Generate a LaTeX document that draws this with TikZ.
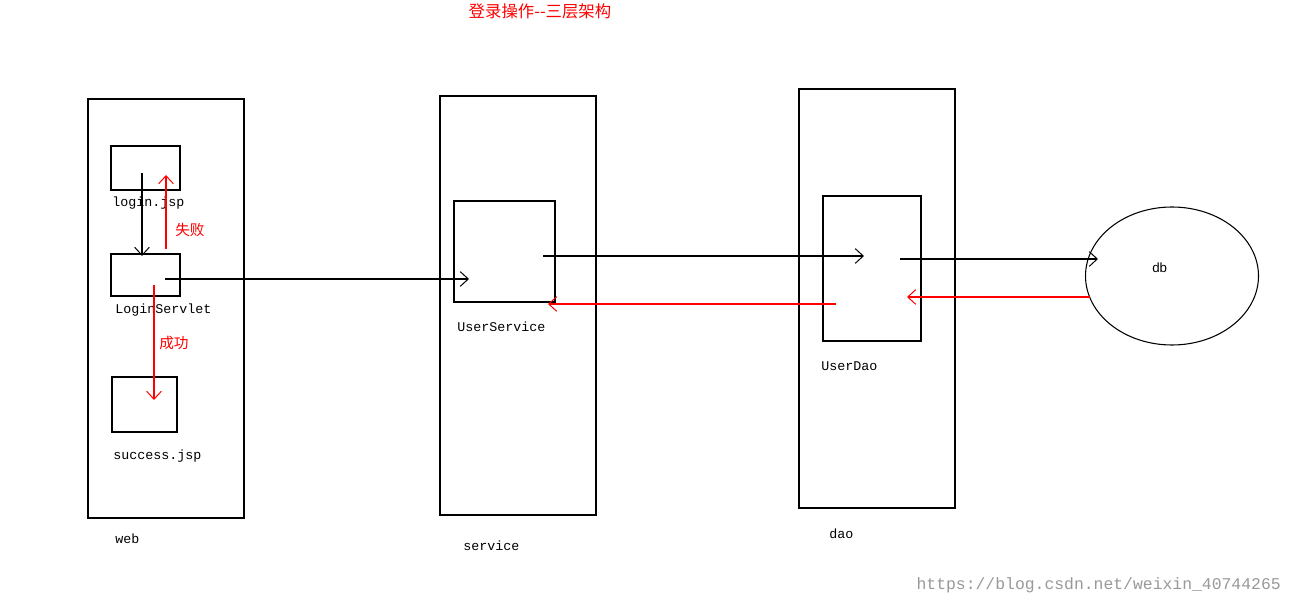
\documentclass[tikz,border=0pt]{standalone}
\usepackage{fontspec}
\setmainfont{Liberation Sans}
\setmonofont{Liberation Mono}
\newfontfamily\cjk{Noto Sans CJK SC}
\usetikzlibrary{arrows.meta,shapes.geometric}
\begin{document}
\begin{tikzpicture}[x=0.75pt,y=-0.75pt,
  box/.style={draw=black,line width=0.8pt,inner sep=0pt,minimum width=#1},
  lbl/.style={anchor=west,inner sep=0pt,font=\ttfamily\fontsize{10pt}{12pt}\selectfont},
  cn/.style={anchor=west,inner sep=0pt,text=red,font=\cjk\fontsize{11pt}{12pt}\selectfont},
  blk/.style={draw=black,line width=0.8pt,-{Straight Barb[length=6pt,width=11pt,line width=0.75pt]}},
  rd/.style={draw=red,line width=0.8pt,-{Straight Barb[length=6pt,width=11pt,line width=0.75pt]}}]
\useasboundingbox[fill=white] (0,0) rectangle (1292,605);
% outer tiers
\node[box=117pt,minimum height=314.25pt] (web) at (166,308.5) {};
\node[box=117pt,minimum height=314.25pt] (service) at (518,305.5) {};
\node[box=117pt,minimum height=314.25pt] (dao) at (877,298.5) {};
% inner boxes
\node[box=51.75pt,minimum height=33pt] (login) at (145.5,168) {};
\node[box=51.75pt,minimum height=31.5pt] (servlet) at (145.5,275) {};
\node[box=48.75pt,minimum height=41.25pt] (success) at (144.5,404.5) {};
\node[box=75.75pt,minimum height=75.75pt] (usvc) at (504.5,251.5) {};
\node[box=73.5pt,minimum height=108.75pt] (udao) at (872,268.5) {};
\node[draw=black,line width=0.8pt,ellipse,inner sep=0pt,minimum width=129.75pt,minimum height=103.5pt] (db) at (1172,276) {};
% labels
\node[lbl] (tlogin) at (112,203) {login.jsp};
\node[lbl] (tservlet) at (115,310) {LoginServlet};
\node[lbl] (tsuccess) at (113,456) {success.jsp};
\node[lbl] (tusvc) at (457,327) {UserService};
\node[lbl] (tudao) at (821,366) {UserDao};
\node[lbl] (tweb) at (115,539) {web};
\node[lbl] (tservice) at (463,546) {service};
\node[lbl] (tdao) at (829,534) {dao};
\node[anchor=west,inner sep=0pt,font=\fontsize{10pt}{12pt}\selectfont] (tdb) at (1152,268) {db};
\node[cn] (tfail) at (175,230) {失败};
\node[cn] (tok) at (159,343) {成功};
\node[anchor=center,inner sep=0pt,text=red,font=\cjk\fontsize{12.3pt}{14pt}\selectfont] (title) at (540,11) {登录操作--三层架构};
\node[anchor=east,inner sep=0pt,text=black!40,font=\ttfamily\fontsize{12.3pt}{14pt}\selectfont] (wm) at (1281,585) {https://blog.csdn.net/weixin\_40744265};
% connector endpoints
\coordinate (a1) at (142,173); \coordinate (a2) at (142,256);
\coordinate (b1) at (166,249); \coordinate (b2) at (166,175);
\coordinate (c1) at (154,285); \coordinate (c2) at (154,400);
\coordinate (d1) at (165,279); \coordinate (d2) at (469,279);
\coordinate (e1) at (543,256); \coordinate (e2) at (864,256);
\coordinate (f1) at (836,304); \coordinate (f2) at (548,304);
\coordinate (g1) at (900,259); \coordinate (g2) at (1098,259);
\coordinate (h1) at (1090,297); \coordinate (h2) at (907,297);
% connectors
\draw[blk] (a1) -- (a2);
\draw[rd] (b1) -- (b2);
\draw[rd] (c1) -- (c2);
\draw[blk] (d1) -- (d2);
\draw[blk] (e1) -- (e2);
\draw[rd] (f1) -- (f2);
\draw[blk] (g1) -- (g2);
\draw[rd] (h1) -- (h2);
\end{tikzpicture}
\end{document}
